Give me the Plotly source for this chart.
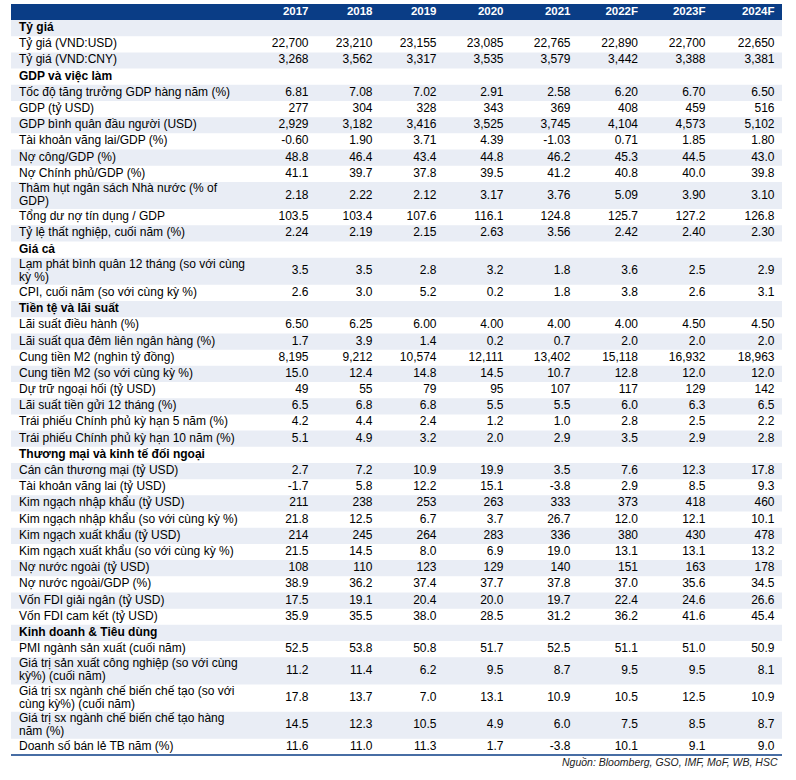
import plotly.graph_objects as go

# ---- data -------------------------------------------------------------
YEARS = ["2017", "2018", "2019", "2020", "2021", "2022F", "2023F", "2024F"]

LABELS = [
    "Tỷ giá",
    "Tỷ giá (VND:USD)",
    "Tỷ giá (VND:CNY)",
    "GDP và việc làm",
    "Tốc độ tăng trưởng GDP hàng năm (%)",
    "GDP (tỷ USD)",
    "GDP bình quân đầu người (USD)",
    "Tài khoản vãng lai/GDP (%)",
    "Nợ công/GDP (%)",
    "Nợ Chính phủ/GDP (%)",
    "Thâm hụt ngân sách Nhà nước (% of<br>GDP)",
    "Tổng dư nợ tín dụng / GDP",
    "Tỷ lệ thất nghiệp, cuối năm (%)",
    "Giá cả",
    "Lạm phát bình quân 12 tháng (so với cùng<br>kỳ %)",
    "CPI, cuối năm (so với cùng kỳ %)",
    "Tiền tệ và lãi suất",
    "Lãi suất điều hành (%)",
    "Lãi suất qua đêm liên ngân hàng (%)",
    "Cung tiền M2 (nghìn tỷ đồng)",
    "Cung tiền M2 (so với cùng kỳ %)",
    "Dự trữ ngoại hối (tỷ USD)",
    "Lãi suất tiền gửi 12 tháng (%)",
    "Trái phiếu Chính phủ kỳ hạn 5 năm (%)",
    "Trái phiếu Chính phủ kỳ hạn 10 năm (%)",
    "Thương mại và kinh tế đối ngoại",
    "Cán cân thương mại (tỷ USD)",
    "Tài khoản vãng lai (tỷ USD)",
    "Kim ngạch nhập khẩu (tỷ USD)",
    "Kim ngạch nhập khẩu (so với cùng kỳ %)",
    "Kim ngạch xuất khẩu (tỷ USD)",
    "Kim ngạch xuất khẩu (so với cùng kỳ %)",
    "Nợ nước ngoài (tỷ USD)",
    "Nợ nước ngoài/GDP (%)",
    "Vốn FDI giải ngân (tỷ USD)",
    "Vốn FDI cam kết (tỷ USD)",
    "Kinh doanh & Tiêu dùng",
    "PMI ngành sản xuất (cuối năm)",
    "Giá trị sản xuất công nghiệp (so với cùng<br>kỳ%) (cuối năm)",
    "Giá trị sx ngành chế biến chế tạo (so với<br>cùng kỳ%) (cuối năm)",
    "Giá trị sx ngành chế biến chế tạo hàng<br>năm (%)",
    "Doanh số bán lẻ TB năm (%)",
]

# number format per row (None = section heading)
FMT = [
    None, ",.0f", ",.0f",
    None, ".2f", ",.0f", ",.0f", ".2f", ".1f", ".1f", ".2f", ".1f", ".2f",
    None, ".1f", ".1f",
    None, ".2f", ".1f", ",.0f", ".1f", ",.0f", ".1f", ".1f", ".1f",
    None, ".1f", ".1f", ",.0f", ".1f", ",.0f", ".1f", ",.0f", ".1f", ".1f", ".1f",
    None, ".1f", ".1f", ".1f", ".1f", ".1f",
]

v2017 = [None, 22700, 3268, None, 6.81, 277, 2929, -0.60, 48.8, 41.1, 2.18, 103.5, 2.24,
         None, 3.5, 2.6, None, 6.50, 1.7, 8195, 15.0, 49, 6.5, 4.2, 5.1,
         None, 2.7, -1.7, 211, 21.8, 214, 21.5, 108, 38.9, 17.5, 35.9,
         None, 52.5, 11.2, 17.8, 14.5, 11.6]
v2018 = [None, 23210, 3562, None, 7.08, 304, 3182, 1.90, 46.4, 39.7, 2.22, 103.4, 2.19,
         None, 3.5, 3.0, None, 6.25, 3.9, 9212, 12.4, 55, 6.8, 4.4, 4.9,
         None, 7.2, 5.8, 238, 12.5, 245, 14.5, 110, 36.2, 19.1, 35.5,
         None, 53.8, 11.4, 13.7, 12.3, 11.0]
v2019 = [None, 23155, 3317, None, 7.02, 328, 3416, 3.71, 43.4, 37.8, 2.12, 107.6, 2.15,
         None, 2.8, 5.2, None, 6.00, 1.4, 10574, 14.8, 79, 6.8, 2.4, 3.2,
         None, 10.9, 12.2, 253, 6.7, 264, 8.0, 123, 37.4, 20.4, 38.0,
         None, 50.8, 6.2, 7.0, 10.5, 11.3]
v2020 = [None, 23085, 3535, None, 2.91, 343, 3525, 4.39, 44.8, 39.5, 3.17, 116.1, 2.63,
         None, 3.2, 0.2, None, 4.00, 0.2, 12111, 14.5, 95, 5.5, 1.2, 2.0,
         None, 19.9, 15.1, 263, 3.7, 283, 6.9, 129, 37.7, 20.0, 28.5,
         None, 51.7, 9.5, 13.1, 4.9, 1.7]
v2021 = [None, 22765, 3579, None, 2.58, 369, 3745, -1.03, 46.2, 41.2, 3.76, 124.8, 3.56,
         None, 1.8, 1.8, None, 4.00, 0.7, 13402, 10.7, 107, 5.5, 1.0, 2.9,
         None, 3.5, -3.8, 333, 26.7, 336, 19.0, 140, 37.8, 19.7, 31.2,
         None, 52.5, 8.7, 10.9, 6.0, -3.8]
v2022F = [None, 22890, 3442, None, 6.20, 408, 4104, 0.71, 45.3, 40.8, 5.09, 125.7, 2.42,
          None, 3.6, 3.8, None, 4.00, 2.0, 15118, 12.8, 117, 6.0, 2.8, 3.5,
          None, 7.6, 2.9, 373, 12.0, 380, 13.1, 151, 37.0, 22.4, 36.2,
          None, 51.1, 9.5, 10.5, 7.5, 10.1]
v2023F = [None, 22700, 3388, None, 6.70, 459, 4573, 1.85, 44.5, 40.0, 3.90, 127.2, 2.40,
          None, 2.5, 2.6, None, 4.50, 2.0, 16932, 12.0, 129, 6.3, 2.5, 2.9,
          None, 12.3, 8.5, 418, 12.1, 430, 13.1, 163, 35.6, 24.6, 41.6,
          None, 51.0, 9.5, 12.5, 8.5, 9.1]
v2024F = [None, 22650, 3381, None, 6.50, 516, 5102, 1.80, 43.0, 39.8, 3.10, 126.8, 2.30,
          None, 2.9, 3.1, None, 4.50, 2.0, 18963, 12.0, 142, 6.5, 2.2, 2.8,
          None, 17.8, 9.3, 460, 10.1, 478, 13.2, 178, 34.5, 26.6, 45.4,
          None, 50.9, 8.1, 10.9, 8.7, 9.0]

COLUMNS = [v2017, v2018, v2019, v2020, v2021, v2022F, v2023F, v2024F]
SOURCE = "Nguồn: Bloomberg, GSO, IMF, MoF, WB, HSC"

# ---- layout (page pixel units) -------------------------------------------
W, H = 796, 780
LEFT, RIGHT = 11, 782
HEAD_TOP, HEAD_BOT = 4, 20
ROW_H, ROW_H2 = 16.19, 27.2
LINE_GAP = 13
LABEL_X = 19
COL_RIGHT = [308.5, 372.5, 436.5, 503.5, 570.5, 638, 705.5, 774.5]
NAVY = "#0A3D86"
STRIPE = "#E9EDF5"
FONT = "Liberation Sans, Arial, sans-serif"

# row positions
tops, mids, bots = [], [], []
y = HEAD_BOT
for lab in LABELS:
    h = ROW_H2 if "<br>" in lab else ROW_H
    tops.append(y)
    mids.append(y + h / 2)
    y += h
    bots.append(y)

# label lines (wrapped labels get one text point per line)
lab_y, lab_txt = [], []
for lab, f, ym in zip(LABELS, FMT, mids):
    parts = lab.split("<br>")
    n = len(parts)
    for k, p in enumerate(parts):
        lab_y.append(ym + (k - (n - 1) / 2) * LINE_GAP)
        lab_txt.append("<b>%s</b>" % p if f is None else p)

fig = go.Figure()

shapes = [dict(type="rect", xref="x", yref="y", x0=LEFT, x1=RIGHT, y0=HEAD_TOP, y1=HEAD_BOT,
               fillcolor=NAVY, line_width=0, layer="below")]
for i in range(len(LABELS)):
    if i % 2 == 0:
        shapes.append(dict(type="rect", xref="x", yref="y", x0=LEFT, x1=RIGHT,
                           y0=tops[i], y1=bots[i], fillcolor=STRIPE, line_width=0, layer="below"))
shapes.append(dict(type="line", xref="x", yref="y", x0=LEFT, x1=RIGHT, y0=bots[-1], y1=bots[-1],
                   line=dict(color=NAVY, width=1.5)))

# header
fig.add_trace(go.Scatter(
    x=COL_RIGHT, y=[(HEAD_TOP + HEAD_BOT) / 2] * len(YEARS),
    text=["<b>%s</b>" % yr for yr in YEARS], mode="text", textposition="middle left",
    textfont=dict(family=FONT, size=11.5, color="white"), hoverinfo="skip", cliponaxis=False))

# row labels
fig.add_trace(go.Scatter(
    x=[LABEL_X] * len(lab_y), y=lab_y, text=lab_txt,
    mode="text", textposition="middle right",
    textfont=dict(family=FONT, size=12, color="black"), hoverinfo="skip", cliponaxis=False))

# values
for xr, col in zip(COL_RIGHT, COLUMNS):
    txt = [("" if v is None else format(v, f)) for v, f in zip(col, FMT)]
    fig.add_trace(go.Scatter(
        x=[xr] * len(col), y=mids, text=txt, mode="text", textposition="middle left",
        textfont=dict(family=FONT, size=12, color="black"), hoverinfo="skip", cliponaxis=False))

fig.add_annotation(x=RIGHT - 2, y=bots[-1] + 7, xref="x", yref="y", text="<i>%s</i>" % SOURCE,
                   showarrow=False, xanchor="right", yanchor="middle",
                   font=dict(family=FONT, size=10.5, color="#222222"))

fig.update_layout(
    width=W, height=H, margin=dict(l=0, r=0, t=0, b=0),
    paper_bgcolor="white", plot_bgcolor="white", showlegend=False,
    shapes=shapes,
    xaxis=dict(range=[0, W], visible=False, fixedrange=True),
    yaxis=dict(range=[H, 0], visible=False, fixedrange=True),
)

# the browser's default 8px body margin would shift the whole table
fig.write_html("out.html", config={"displayModeBar": False},
               post_script="document.body.style.margin = '0';")
